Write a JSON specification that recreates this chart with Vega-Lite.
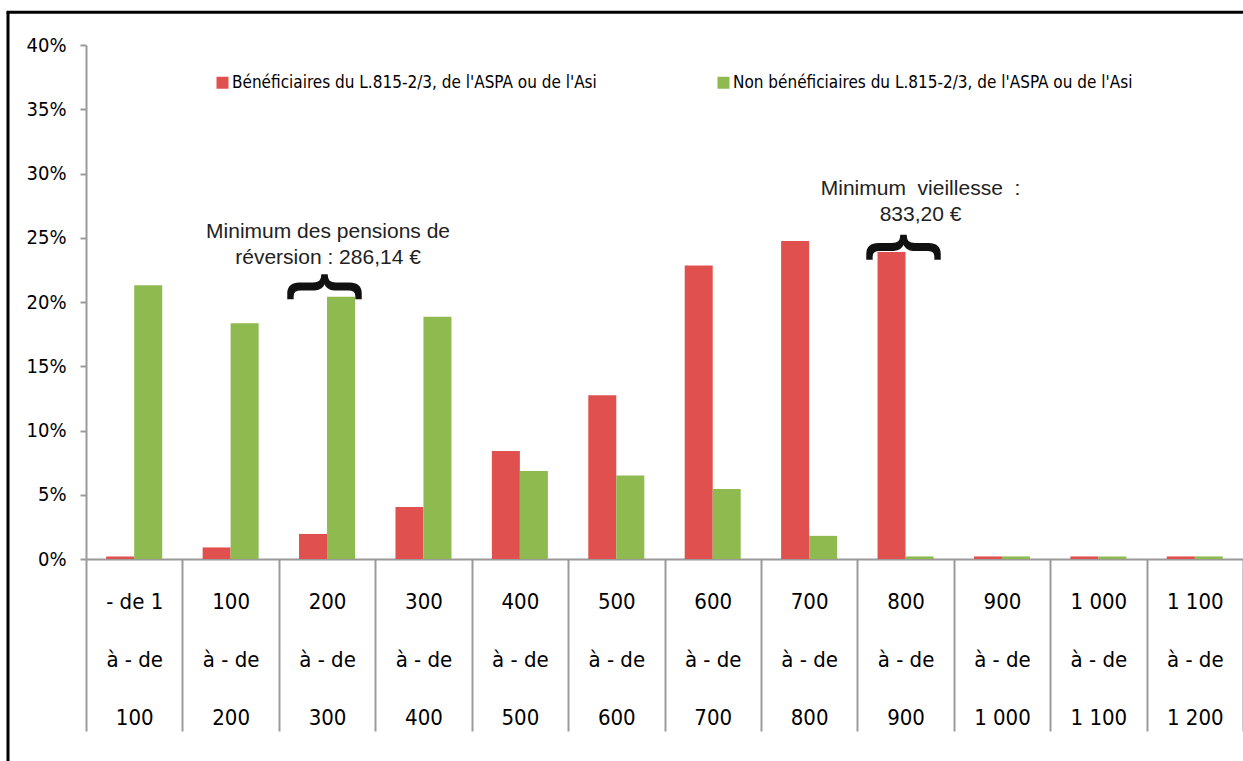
{
  "$schema": "https://vega.github.io/schema/vega-lite/v6.json",
  "width": 1157,
  "height": 514,
  "autosize": "none",
  "padding": {"left": 86, "top": 45, "right": 0, "bottom": 202},
  "background": "white",
  "config": {"view": {"stroke": null}, "font": "Liberation Sans"},
  "datasets": {
    "bars": [
      {"tranche": "- de 1|à - de|100", "serie": "Bénéficiaires du L.815-2/3, de l'ASPA ou de l'Asi", "pct": 0.2},
      {"tranche": "- de 1|à - de|100", "serie": "Non bénéficiaires du L.815-2/3, de l'ASPA ou de l'Asi", "pct": 21.3},
      {"tranche": "100|à - de|200", "serie": "Bénéficiaires du L.815-2/3, de l'ASPA ou de l'Asi", "pct": 0.9},
      {"tranche": "100|à - de|200", "serie": "Non bénéficiaires du L.815-2/3, de l'ASPA ou de l'Asi", "pct": 18.35},
      {"tranche": "200|à - de|300", "serie": "Bénéficiaires du L.815-2/3, de l'ASPA ou de l'Asi", "pct": 1.95},
      {"tranche": "200|à - de|300", "serie": "Non bénéficiaires du L.815-2/3, de l'ASPA ou de l'Asi", "pct": 20.4},
      {"tranche": "300|à - de|400", "serie": "Bénéficiaires du L.815-2/3, de l'ASPA ou de l'Asi", "pct": 4.05},
      {"tranche": "300|à - de|400", "serie": "Non bénéficiaires du L.815-2/3, de l'ASPA ou de l'Asi", "pct": 18.85},
      {"tranche": "400|à - de|500", "serie": "Bénéficiaires du L.815-2/3, de l'ASPA ou de l'Asi", "pct": 8.4},
      {"tranche": "400|à - de|500", "serie": "Non bénéficiaires du L.815-2/3, de l'ASPA ou de l'Asi", "pct": 6.85},
      {"tranche": "500|à - de|600", "serie": "Bénéficiaires du L.815-2/3, de l'ASPA ou de l'Asi", "pct": 12.75},
      {"tranche": "500|à - de|600", "serie": "Non bénéficiaires du L.815-2/3, de l'ASPA ou de l'Asi", "pct": 6.5},
      {"tranche": "600|à - de|700", "serie": "Bénéficiaires du L.815-2/3, de l'ASPA ou de l'Asi", "pct": 22.85},
      {"tranche": "600|à - de|700", "serie": "Non bénéficiaires du L.815-2/3, de l'ASPA ou de l'Asi", "pct": 5.45},
      {"tranche": "700|à - de|800", "serie": "Bénéficiaires du L.815-2/3, de l'ASPA ou de l'Asi", "pct": 24.75},
      {"tranche": "700|à - de|800", "serie": "Non bénéficiaires du L.815-2/3, de l'ASPA ou de l'Asi", "pct": 1.8},
      {"tranche": "800|à - de|900", "serie": "Bénéficiaires du L.815-2/3, de l'ASPA ou de l'Asi", "pct": 23.9},
      {"tranche": "800|à - de|900", "serie": "Non bénéficiaires du L.815-2/3, de l'ASPA ou de l'Asi", "pct": 0.2},
      {"tranche": "900|à - de|1 000", "serie": "Bénéficiaires du L.815-2/3, de l'ASPA ou de l'Asi", "pct": 0.2},
      {"tranche": "900|à - de|1 000", "serie": "Non bénéficiaires du L.815-2/3, de l'ASPA ou de l'Asi", "pct": 0.2},
      {"tranche": "1 000|à - de|1 100", "serie": "Bénéficiaires du L.815-2/3, de l'ASPA ou de l'Asi", "pct": 0.2},
      {"tranche": "1 000|à - de|1 100", "serie": "Non bénéficiaires du L.815-2/3, de l'ASPA ou de l'Asi", "pct": 0.2},
      {"tranche": "1 100|à - de|1 200", "serie": "Bénéficiaires du L.815-2/3, de l'ASPA ou de l'Asi", "pct": 0.2},
      {"tranche": "1 100|à - de|1 200", "serie": "Non bénéficiaires du L.815-2/3, de l'ASPA ou de l'Asi", "pct": 0.2}
    ],
    "notes": [
      {"tranche": "200|à - de|300", "pct": 25.0, "texte": "Minimum des pensions de\nréversion : 286,14 €", "accolade": 22.5},
      {"tranche": "800|à - de|900", "pct": 28.33, "texte": "Minimum\u00a0 vieillesse\u00a0 :\n833,20 €", "accolade": 25.2}
    ]
  },
  "layer": [
    {
      "data": {"values": [{}]},
      "layer": [
        {
          "mark": {"type": "rect", "color": "white"},
          "encoding": {
            "x": {"datum": 110, "type": "quantitative", "scale": {"domain": [0, 1157], "nice": false, "zero": false}, "axis": null},
            "x2": {"datum": 366},
            "y": {"datum": 24.4, "type": "quantitative", "scale": {"domain": [0, 40], "nice": false}, "axis": null},
            "y2": {"datum": 26.6}
          }
        },
        {
          "mark": {"type": "rule", "color": "black", "strokeWidth": 3},
          "encoding": {
            "x": {"datum": -78, "type": "quantitative", "scale": {"domain": [0, 1157], "nice": false, "zero": false}, "axis": null},
            "y": {"datum": -16, "type": "quantitative", "scale": {"domain": [0, 40], "nice": false}, "axis": null},
            "y2": {"datum": 42.55}
          }
        },
        {
          "mark": {"type": "rule", "color": "black", "strokeWidth": 3},
          "encoding": {
            "x": {"datum": -79.5, "type": "quantitative", "scale": {"domain": [0, 1157], "nice": false, "zero": false}, "axis": null},
            "x2": {"datum": 1165},
            "y": {"datum": 42.55, "type": "quantitative", "scale": {"domain": [0, 40], "nice": false}, "axis": null}
          }
        }
      ]
    },
    {
      "layer": [
        {
          "data": {"name": "bars"},
          "mark": {"type": "bar"},
          "encoding": {
            "x": {
              "field": "tranche", "type": "nominal",
              "scale": {"domain": ["- de 1|à - de|100", "100|à - de|200", "200|à - de|300", "300|à - de|400", "400|à - de|500", "500|à - de|600", "600|à - de|700", "700|à - de|800", "800|à - de|900", "900|à - de|1 000", "1 000|à - de|1 100", "1 100|à - de|1 200"], "paddingInner": 0, "paddingOuter": 0},
              "axis": {
                "title": null, "labelExpr": "split(datum.label, '|')", "labelAngle": 0,
                "labelFont": "Liberation Sans Narrow, DejaVu Sans Condensed, sans-serif", "labelFontSize": 22, "labelColor": "black",
                "labelLineHeight": 58, "labelBaseline": "alphabetic", "labelPadding": -123,
                "labelOverlap": false, "labelBound": false, "labelFlush": false, "labelLimit": 0,
                "tickBand": "extent", "tickSize": 172, "tickColor": "#9a9a9a", "tickWidth": 2,
                "domainColor": "#9a9a9a", "domainWidth": 2, "grid": false
              }
            },
            "xOffset": {
              "field": "serie", "type": "nominal",
              "scale": {"domain": ["Bénéficiaires du L.815-2/3, de l'ASPA ou de l'Asi", "Non bénéficiaires du L.815-2/3, de l'ASPA ou de l'Asi"], "paddingInner": 0, "paddingOuter": 0.7214}
            },
            "y": {
              "field": "pct", "type": "quantitative",
              "scale": {"domain": [0, 40], "nice": false},
              "axis": {
                "title": null, "values": [0, 5, 10, 15, 20, 25, 30, 35, 40], "labelExpr": "datum.value + '%'",
                "labelFont": "Liberation Sans Narrow, DejaVu Sans Condensed, sans-serif", "labelFontSize": 20, "labelColor": "black",
                "labelPadding": 14, "tickSize": 6, "tickColor": "#9a9a9a", "tickWidth": 2,
                "domainColor": "#9a9a9a", "domainWidth": 2, "gridColor": "#9a9a9a", "gridWidth": 2
              }
            },
            "color": {
              "field": "serie", "type": "nominal",
              "scale": {"domain": ["Bénéficiaires du L.815-2/3, de l'ASPA ou de l'Asi", "Non bénéficiaires du L.815-2/3, de l'ASPA ou de l'Asi"], "range": ["#E0504F", "#8EBA4F"]},
              "legend": {
                "orient": "none", "legendX": 128, "legendY": 29, "direction": "horizontal", "title": null,
                "symbolType": "square", "symbolSize": 144, "symbolStrokeWidth": 0,
                "labelFont": "Liberation Sans Narrow, DejaVu Sans Condensed, sans-serif", "labelFontSize": 17, "labelColor": "black",
                "columnPadding": 118, "labelOffset": 1, "padding": 0, "labelLimit": 0
              }
            }
          }
        },
        {
          "data": {"name": "notes"},
          "transform": [{"filter": "datum.tranche == '200|à - de|300'"}],
          "mark": {"type": "text", "font": "Liberation Sans", "fontSize": 21, "color": "#222222", "align": "center", "baseline": "alphabetic", "lineBreak": "\n", "lineHeight": 26, "dx": 1},
          "encoding": {
            "x": {"field": "tranche", "type": "nominal"},
            "y": {"field": "pct", "type": "quantitative"},
            "text": {"field": "texte"}
          }
        },
        {
          "data": {"name": "notes"},
          "transform": [{"filter": "datum.tranche == '800|à - de|900'"}],
          "mark": {"type": "text", "font": "Liberation Sans", "fontSize": 21, "color": "#222222", "align": "center", "baseline": "alphabetic", "lineBreak": "\n", "lineHeight": 26, "dx": 15},
          "encoding": {
            "x": {"field": "tranche", "type": "nominal"},
            "y": {"field": "pct", "type": "quantitative"},
            "text": {"field": "texte"}
          }
        },
        {
          "data": {"name": "notes"},
          "transform": [{"filter": "datum.tranche == '200|à - de|300'"}],
          "mark": {"type": "text", "text": "{", "font": "Liberation Sans", "fontSize": 78, "color": "#111111", "stroke": "#111111", "strokeWidth": 1.5, "angle": 90, "align": "center", "baseline": "middle", "dx": 17},
          "encoding": {
            "x": {"field": "tranche", "type": "nominal"},
            "y": {"field": "accolade", "type": "quantitative"}
          }
        },
        {
          "data": {"name": "notes"},
          "transform": [{"filter": "datum.tranche == '800|à - de|900'"}],
          "mark": {"type": "text", "text": "{", "font": "Liberation Sans", "fontSize": 78, "color": "#111111", "stroke": "#111111", "strokeWidth": 1.5, "angle": 90, "align": "center", "baseline": "middle", "dx": 12},
          "encoding": {
            "x": {"field": "tranche", "type": "nominal"},
            "y": {"field": "accolade", "type": "quantitative"}
          }
        }
      ]
    }
  ],
  "resolve": {"scale": {"x": "independent", "y": "independent"}}
}
